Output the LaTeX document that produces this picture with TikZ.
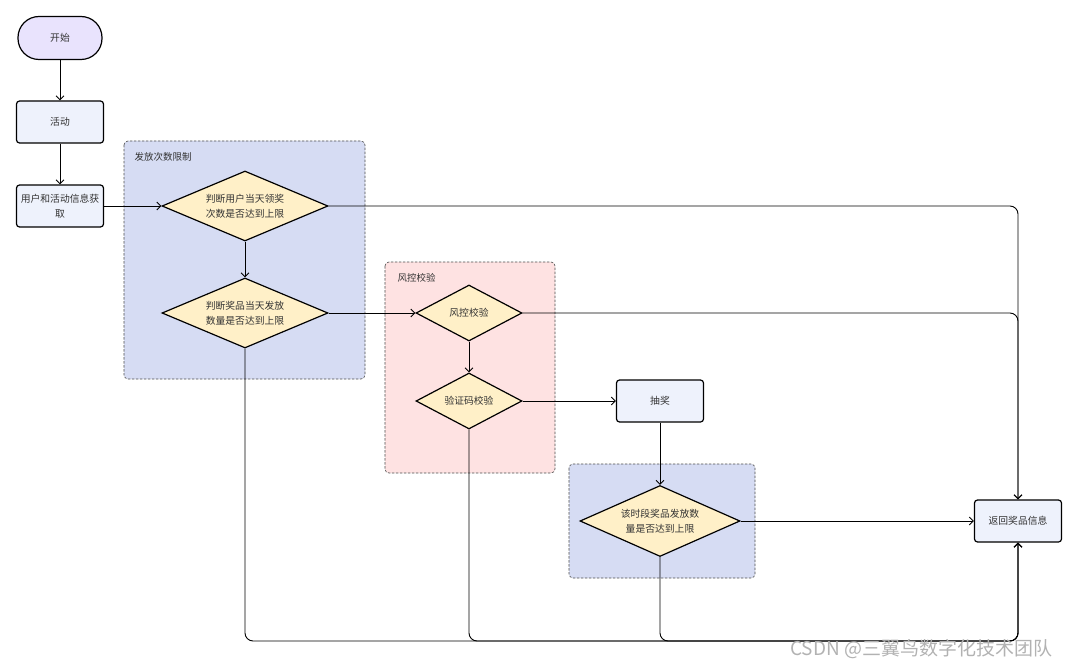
\documentclass[tikz,border=0pt]{standalone}
\usepackage{fontspec}
\newfontfamily\cjk{Noto Sans CJK SC}
\usetikzlibrary{shapes,arrows.meta}
\definecolor{startfill}{HTML}{E9E3FD}
\definecolor{boxfill}{HTML}{EEF2FC}
\definecolor{decfill}{HTML}{FFF0C8}
\definecolor{grpblue}{HTML}{D6DCF3}
\definecolor{grppink}{HTML}{FEE2E2}
\definecolor{txt}{HTML}{333333}
\begin{document}
\begin{tikzpicture}[x=1pt, y=-1pt,
		every node/.style={font=\cjk\fontsize{9.8}{15}\selectfont, text=txt},
		startbox/.style={draw, line width=1.2pt, fill=startfill, rounded corners=21pt, minimum width=84pt, minimum height=43pt},
		procbox/.style={draw, line width=1.2pt, fill=boxfill, rounded corners=3pt, minimum width=87pt, minimum height=42pt, align=center, inner sep=1pt},
		decbox/.style={draw, line width=1.2pt, fill=decfill, diamond, aspect=2.4, inner sep=0pt, align=center},
		grpbox/.style={draw=black!70, dashed, dash pattern=on 2.5pt off 1.5pt, line width=0.6pt, rounded corners=4pt},
		grplabel/.style={anchor=west, font=\cjk\fontsize{9.5}{11}\selectfont},
		link/.style={line width=0.9pt, -{Straight Barb[length=4pt, width=8pt, line width=0.9pt]}},
		plain/.style={line width=0.9pt, rounded corners=8pt}]
	\useasboundingbox (0,0) rectangle (1080,666);
	% groups
	\draw[grpbox, fill=grpblue] (124,141) rectangle (365,379);
	\node[grplabel] (glimit) at (131,157) {发放次数限制};
	\draw[grpbox, fill=grppink] (385,262) rectangle (555,473);
	\node[grplabel] (grisk) at (394,278) {风控校验};
	\draw[grpbox, fill=grpblue] (569,464) rectangle (755,578);
	% nodes
	\node[startbox] (start) at (60,38) {开始};
	\node[procbox] (act) at (60,122) {活动};
	\node[procbox] (info) at (60,206) {用户和活动信息获\\取};
	\node[decbox, minimum width=166pt, minimum height=70pt] (dayuser) at (245,206) {判断用户当天领奖\\次数是否达到上限};
	\node[decbox, minimum width=166pt, minimum height=70pt] (dayprize) at (245,313) {判断奖品当天发放\\数量是否达到上限};
	\node[decbox, minimum width=106pt, minimum height=56pt, aspect=1.9] (risk) at (469,313) {风控校验};
	\node[decbox, minimum width=106pt, minimum height=56pt, aspect=1.9] (code) at (469,401) {验证码校验};
	\node[procbox] (draw) at (660,401) {抽奖};
	\node[decbox, minimum width=160pt, minimum height=71pt, aspect=2.2] (slot) at (660,521) {该时段奖品发放数\\量是否达到上限};
	\node[procbox] (ret) at (1018,521) {返回奖品信息};
	\coordinate (bot) at (0,641);
	% connectors
	\draw[link] (start) -- (act);
	\draw[link] (act) -- (info);
	\draw[link] (info) -- (dayuser.west);
	\draw[link] (dayuser) -- (dayprize);
	\draw[link] (dayprize.east) -- (risk.west);
	\draw[link] (risk) -- (code);
	\draw[link] (code.east) -- (draw);
	\draw[link] (draw) -- (slot);
	\draw[link] (slot.east) -- (ret);
	\draw[plain, link] (dayuser.east) -| (ret.north);
	\draw[plain, link] (risk.east) -| (ret.north);
	\draw[plain, link] (dayprize.south) -- (dayprize.south |- bot) -| (ret.south);
	\draw[plain, link] (code.south) -- (code.south |- bot) -| (ret.south);
	\draw[plain, link] (slot.south) -- (slot.south |- bot) -| (ret.south);
	% watermark
	\node[anchor=west, font=\cjk\fontsize{19}{21}\selectfont, text=black!30, inner sep=0pt] (mark) at (790,649) {CSDN @三翼鸟数字化技术团队};
\end{tikzpicture}
\end{document}
